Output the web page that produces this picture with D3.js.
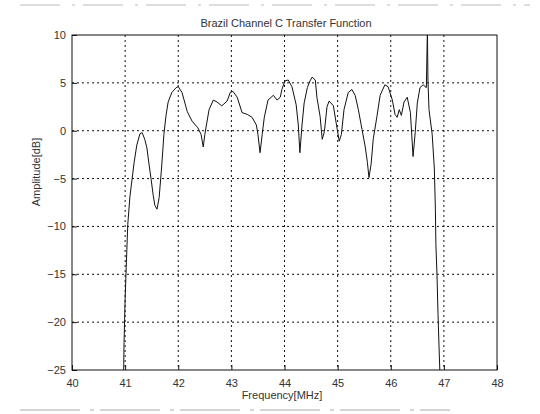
<!DOCTYPE html>
<html lang="en">
  <head>
    <meta charset="UTF-8" />
    <title>Brazil Channel C Transfer Function</title>
    <style>
      body { margin: 0; background: #fff; }
      text { font-family: "Liberation Sans", Arial, sans-serif; fill: #333; }
    </style>
  </head>
  <body>
    <svg width="540" height="414"></svg>
    <script src="https://d3js.org/d3.v7.min.js"></script>
    <script>
      // values
      var freq = [40.97, 40.98, 41.00, 41.02, 41.05, 41.09, 41.13, 41.17, 41.22, 41.28,
        41.32, 41.37, 41.41, 41.45, 41.49, 41.53, 41.56, 41.60, 41.64, 41.68,
        41.71, 41.73, 41.77, 41.81, 41.88, 41.96, 42.00, 42.07, 42.17, 42.26,
        42.37, 42.43, 42.47, 42.50, 42.54, 42.58, 42.66, 42.73, 42.82, 42.92,
        42.98, 43.03, 43.11, 43.20, 43.30, 43.39, 43.47, 43.50, 43.54, 43.58,
        43.62, 43.69, 43.79, 43.86, 43.92, 43.95, 44.01, 44.07, 44.14, 44.22,
        44.26, 44.29, 44.33, 44.37, 44.43, 44.48, 44.52, 44.58, 44.61, 44.67,
        44.71, 44.75, 44.80, 44.84, 44.92, 44.97, 45.03, 45.07, 45.12, 45.20,
        45.27, 45.33, 45.39, 45.46, 45.52, 45.56, 45.59, 45.63, 45.67, 45.74,
        45.80, 45.89, 45.95, 46.03, 46.08, 46.12, 46.16, 46.20, 46.25, 46.31,
        46.37, 46.42, 46.46, 46.50, 46.55, 46.61, 46.67, 46.69, 46.70, 46.72,
        46.78, 46.82, 46.84, 46.85, 46.87, 46.89, 46.91, 46.93];
      var amp = [-25.9, -22.1, -17.6, -14.3, -9.8, -6.9, -5.1, -3.3, -1.5, -0.3,
        -0.2, -0.9, -1.8, -3.5, -5.1, -6.8, -7.8, -8.2, -7.0, -4.3,
        -2.0, -0.4, 1.6, 3.0, 4.0, 4.5, 4.6, 4.0, 2.0, 1.0,
        0.3, -0.4, -1.7, -0.4, 0.9, 2.2, 3.2, 3.0, 2.6, 3.1,
        4.0, 4.1, 3.5, 1.9, 1.7, 1.4, 0.6, -0.4, -2.3, -0.4,
        1.4, 3.2, 3.7, 3.2, 3.5, 4.3, 5.2, 5.3, 4.6, 2.7,
        0.6, -2.3, 0.6, 2.9, 4.5, 5.2, 5.6, 5.3, 3.5, 1.5,
        -0.9, -0.1, 2.5, 3.1, 2.6, 0.9, -1.1, -0.4, 2.2, 4.0,
        4.3, 3.7, 2.2, 0.1, -1.7, -3.3, -4.9, -3.5, -0.9, 1.5,
        3.7, 4.8, 4.6, 3.2, 1.7, 1.4, 2.2, 1.6, 3.0, 3.5,
        1.9, -2.7, -0.2, 2.9, 4.5, 4.8, 4.5, 10.6, 5.3, 2.2,
        -0.4, -3.9, -8.2, -11.9, -15.0, -19.2, -22.8, -26];
      var xTicks = [40, 41, 42, 43, 44, 45, 46, 47, 48];
      var yTicks = [10, 5, 0, -5, -10, -15, -20, -25];

      var svg = d3.select("svg");
      var plotL = 72, plotR = 497, plotT = 35, plotB = 370;

      var x = d3.scaleLinear().domain([40, 48]).range([plotL, plotR]);
      var y = d3.scaleLinear().domain([-25, 10]).range([plotB, plotT]);

      // faint scan edges
      svg.append("line").attr("x1", 20).attr("x2", 530).attr("y1", 5).attr("y2", 5)
        .attr("stroke", "#bbb").attr("stroke-dasharray", "40,12,3,8");
      svg.append("line").attr("x1", 20).attr("x2", 450).attr("y1", 410).attr("y2", 410)
        .attr("stroke", "#aaa").attr("stroke-dasharray", "60,10,4,6");

      svg.append("clipPath").attr("id", "plot")
        .append("rect").attr("x", plotL).attr("y", plotT)
        .attr("width", plotR - plotL).attr("height", plotB - plotT);

      // grid
      var grid = svg.append("g").attr("stroke", "#111").attr("stroke-dasharray", "2,3");
      grid.selectAll(".gx").data(xTicks.slice(1, -1)).enter().append("line")
        .attr("x1", d => x(d)).attr("x2", d => x(d))
        .attr("y1", plotT).attr("y2", plotB);
      grid.selectAll(".gy").data(yTicks.slice(1, -1)).enter().append("line")
        .attr("y1", d => y(d)).attr("y2", d => y(d))
        .attr("x1", plotL).attr("x2", plotR);

      // axes box
      svg.append("rect").attr("x", plotL).attr("y", plotT)
        .attr("width", plotR - plotL).attr("height", plotB - plotT)
        .attr("fill", "none").attr("stroke", "#111");

      var xAxis = d3.axisBottom(x).tickValues(xTicks).tickSize(-5).tickPadding(9)
        .tickFormat(d3.format("d"));
      var gx = svg.append("g").attr("transform", "translate(0," + plotB + ")").call(xAxis);
      var yAxis = d3.axisLeft(y).tickValues(yTicks).tickSize(-5).tickPadding(6)
        .tickFormat(d3.format("d"));
      var gy = svg.append("g").attr("transform", "translate(" + plotL + ",0)").call(yAxis);
      [gx, gy].forEach(function (g) {
        g.select(".domain").remove();
        g.selectAll("line").attr("stroke", "#111");
        g.selectAll("text").attr("font-size", 11).style("fill", "#333");
      });

      // transfer function curve
      var line = d3.line().x((d, i) => x(freq[i])).y(d => y(d));
      svg.append("path").datum(amp)
        .attr("clip-path", "url(#plot)")
        .attr("d", line)
        .attr("fill", "none")
        .attr("stroke", "#111")
        .attr("stroke-width", 1);

      svg.append("text").attr("x", 286).attr("y", 27).attr("text-anchor", "middle")
        .attr("font-size", 11).text("Brazil Channel C Transfer Function");
      svg.append("text").attr("x", 282).attr("y", 399).attr("text-anchor", "middle")
        .attr("font-size", 11).text("Frequency[MHz]");
      svg.append("text").attr("transform", "translate(40,172) rotate(-90)")
        .attr("text-anchor", "middle").attr("font-size", 11).text("Amplitude[dB]");
    </script>
  </body>
</html>
